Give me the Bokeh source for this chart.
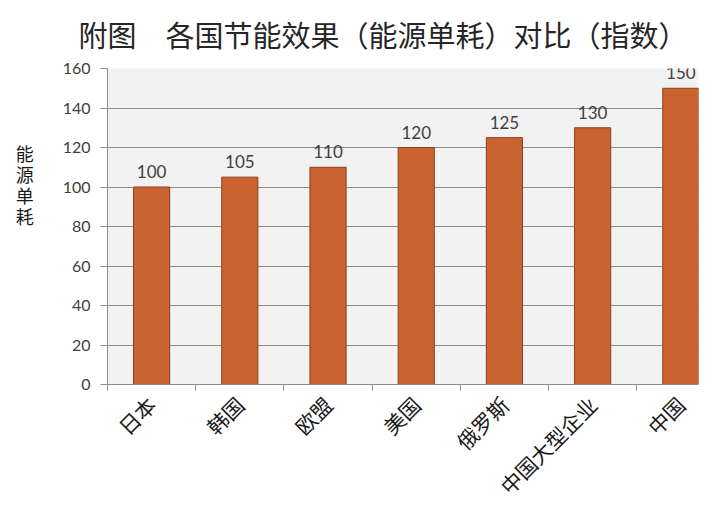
import math
from bokeh.plotting import figure
from bokeh.models import ColumnDataSource, Range1d, FixedTicker, LabelSet
from bokeh.core.properties import value
from bokeh.embed import file_html
from bokeh.resources import INLINE

categories = ["日本", "韩国", "欧盟", "美国", "俄罗斯", "中国大型企业", "中国"]
values = [100, 105, 110, 120, 125, 130, 150]
y_ticks = [0, 20, 40, 60, 80, 100, 120, 140, 160]
title_text = "附图\u3000各国节能效果（能源单耗）对比（指数）"
y_title = ["能", "源", "单", "耗"]

centers = [i + 0.5 for i in range(len(categories))]
source = ColumnDataSource(dict(x=centers, top=values, lab=[str(v) for v in values]))

p = figure(frame_width=591, frame_height=316, output_backend="svg", toolbar_location=None,
           x_range=Range1d(0, 6.7), y_range=Range1d(0, 160),
           min_border_left=107, min_border_right=2, min_border_top=68, min_border_bottom=116)

p.background_fill_color = "#f2f2f2"
p.border_fill_color = "white"
p.outline_line_color = None

p.title.text = title_text
p.title.align = "left"
p.title.vertical_align = "top"
p.title.text_font = "Noto Sans CJK SC"
p.title.text_font_size = "29px"
p.title.text_font_style = "normal"
p.title.text_color = "#262626"
p.title.standoff = 24
p.title.offset = -29

p.vbar(x="x", top="top", width=0.41, source=source,
       fill_color="#cb6331", line_color="#8f3f1c", line_width=1)

labels = LabelSet(x="x", y="top", text="lab", source=source, y_offset=9,
                  text_align="center", text_baseline="bottom",
                  text_font=value("Lato"), text_font_size=value("17px"), text_color="#404040")
p.add_layout(labels)

# y axis
p.yaxis.ticker = FixedTicker(ticks=y_ticks)
p.yaxis.axis_line_color = "#8c8c8c"
p.yaxis.major_tick_line_color = "#8c8c8c"
p.yaxis.major_tick_out = 7
p.yaxis.major_tick_in = 0
p.yaxis.minor_tick_line_color = None
p.yaxis.major_label_text_font = "Lato"
p.yaxis.major_label_text_font_size = "16px"
p.yaxis.major_label_text_color = "#404040"
p.yaxis.major_label_standoff = 10
p.yaxis.axis_label = "\n".join(y_title + [" "] * 4)
p.yaxis.axis_label_orientation = "horizontal"
p.yaxis.axis_label_text_font = "Noto Sans CJK SC"
p.yaxis.axis_label_text_font_size = "18px"
p.yaxis.axis_label_text_font_style = "normal"
p.yaxis.axis_label_text_color = "#1a1a1a"
p.yaxis.axis_label_text_line_height = 0.805
p.yaxis.axis_label_standoff = 26

p.ygrid.grid_line_color = "#8c8c8c"
p.xgrid.grid_line_color = None

# x axis
p.xaxis.ticker = FixedTicker(ticks=centers, minor_ticks=list(range(0, 7)))
p.xaxis.major_label_overrides = {c: n for c, n in zip(centers, categories)}
p.xaxis.axis_line_color = "#8c8c8c"
p.xaxis.major_tick_line_color = None
p.xaxis.major_tick_out = 0
p.xaxis.major_tick_in = 0
p.xaxis.minor_tick_line_color = "#8c8c8c"
p.xaxis.minor_tick_out = 6
p.xaxis.minor_tick_in = 0
p.xaxis.major_label_orientation = math.pi / 4
p.xaxis.major_label_text_font = "Noto Sans CJK SC"
p.xaxis.major_label_text_font_size = "21px"
p.xaxis.major_label_text_color = "#1a1a1a"
p.xaxis.major_label_standoff = 10

open("out.html", "w").write(file_html(p, INLINE))
